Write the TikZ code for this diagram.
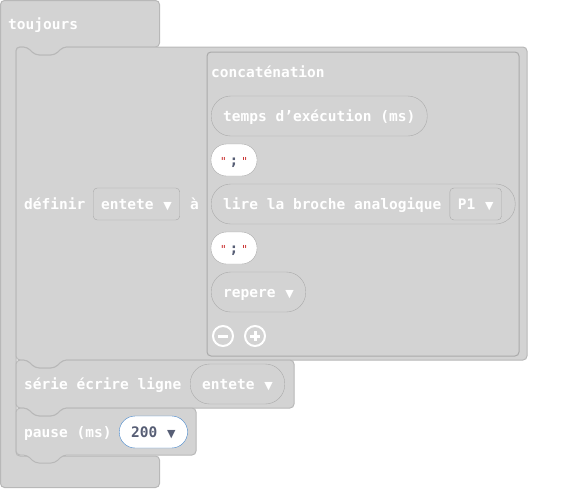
\documentclass[tikz,border=0pt]{standalone}
\usepackage{fontspec}
\setmonofont{DejaVu Sans Mono}
\newfontfamily\symfont{DejaVu Sans}
\usetikzlibrary{positioning}

\definecolor{blockgray}{RGB}{211,211,211}
\definecolor{blockline}{RGB}{184,184,184}
\definecolor{pillline}{RGB}{170,170,170}
\definecolor{qred}{RGB}{200,40,40}
\definecolor{numtext}{RGB}{87,94,117}
\definecolor{numline}{RGB}{66,133,204}

\newcommand{\dd}{\hspace{1pt}{\symfont\fontsize{11}{11}\selectfont ▼}}
\newcommand{\pointvirg}{{\fontsize{11}{11}\selectfont\mdseries\textcolor{qred}{"}}\kern3pt\textcolor{numtext}{;}\kern3pt{\fontsize{11}{11}\selectfont\mdseries\textcolor{qred}{"}}}

\tikzset{
  blk/.style={fill=blockgray, draw=blockline, line width=1pt, rounded corners=4pt},
  lbl/.style={text=white, font=\ttfamily\bfseries\fontsize{14.5}{16}\selectfont, inner sep=0pt, text height=12pt, text depth=2pt, anchor=west},
  pill/.style={lbl, draw=pillline, fill=blockgray, rounded corners=19.5pt, minimum height=40pt, inner xsep=12pt},
  menu/.style={lbl, draw=pillline, fill=blockgray, rounded corners=4pt, minimum height=32pt, inner xsep=8pt},
  strpill/.style={lbl, anchor=center, draw=pillline, fill=white, rounded corners=15.5pt, minimum width=46pt, minimum height=32pt},
  icon/.style={circle, draw=white, line width=2pt, minimum size=20pt, inner sep=0pt},
}

\begin{document}
\begin{tikzpicture}[x=1pt,y=-1pt]
  \useasboundingbox (0,0) rectangle (579,488);

  % toujours
  \draw[blk] (0.5,0.5) -- (159.5,0.5) -- (159.5,47) -- (63,47) -- (55,55) -- (35,55) -- (27,47) -- (16,47) -- (16,456) -- (159.5,456) -- (159.5,487.5) -- (0.5,487.5) -- cycle;
  \node[lbl] (tjr) at (8,24) {toujours};

  % les trois instructions
  \foreach \xr/\yt/\yb in {527/47/360, 294/360/408, 196/408/455}
    \draw[blk] (16,\yt) -- (27,\yt) -- (35,\yt+8) -- (55,\yt+8) -- (63,\yt) -- (\xr,\yt) -- (\xr,\yb) -- (63,\yb) -- (55,\yb+8) -- (35,\yb+8) -- (27,\yb) -- (16,\yb) -- cycle;

  % definir ... a concatenation
  \node[lbl] (def) at (24,204) {définir};
  \node[menu] (var) at (93,204) {entete \dd};
  \node[lbl] (a) at (190,204) {à};

  \draw[blk, draw=pillline] (207,52) rectangle (519,356);
  \node[lbl] (concat) at (211,72) {concaténation};
  \node[pill] (tps) at (211,116) {temps d’exécution (ms)};
  \node[strpill] (sep1) at (234,160) {\pointvirg};
  \node[pill, minimum width=304pt] (lire) at (211,204) {};
  \node[lbl] (liretxt) at ([xshift=12pt]lire.west) {lire la broche analogique};
  \node[menu, right=8pt of liretxt] (pin) {P1 \dd};
  \node[strpill] (sep2) at (234,248) {\pointvirg};
  \node[pill] (rep) at (211,292) {repere \dd};

  \node[icon] (moins) at (223,336) {};
  \node[icon] (plus) at (255,336) {};
  \draw[white, line width=3pt] ([xshift=-5pt]moins.center) -- ([xshift=5pt]moins.center);
  \draw[white, line width=3pt] ([xshift=-5pt]plus.center) -- ([xshift=5pt]plus.center);
  \draw[white, line width=3pt] ([yshift=-5pt]plus.center) -- ([yshift=5pt]plus.center);

  % serie ecrire ligne
  \node[lbl] (serie) at (24,384) {série écrire ligne};
  \node[pill] (var2) at (190,384) {entete \dd};

  % pause
  \node[lbl] (pause) at (24,432) {pause (ms)};
  \node[pill, fill=white, draw=numline, text=numtext, rounded corners=16pt, minimum height=32pt] (duree) at (119,432) {200 \dd};
\end{tikzpicture}
\end{document}
